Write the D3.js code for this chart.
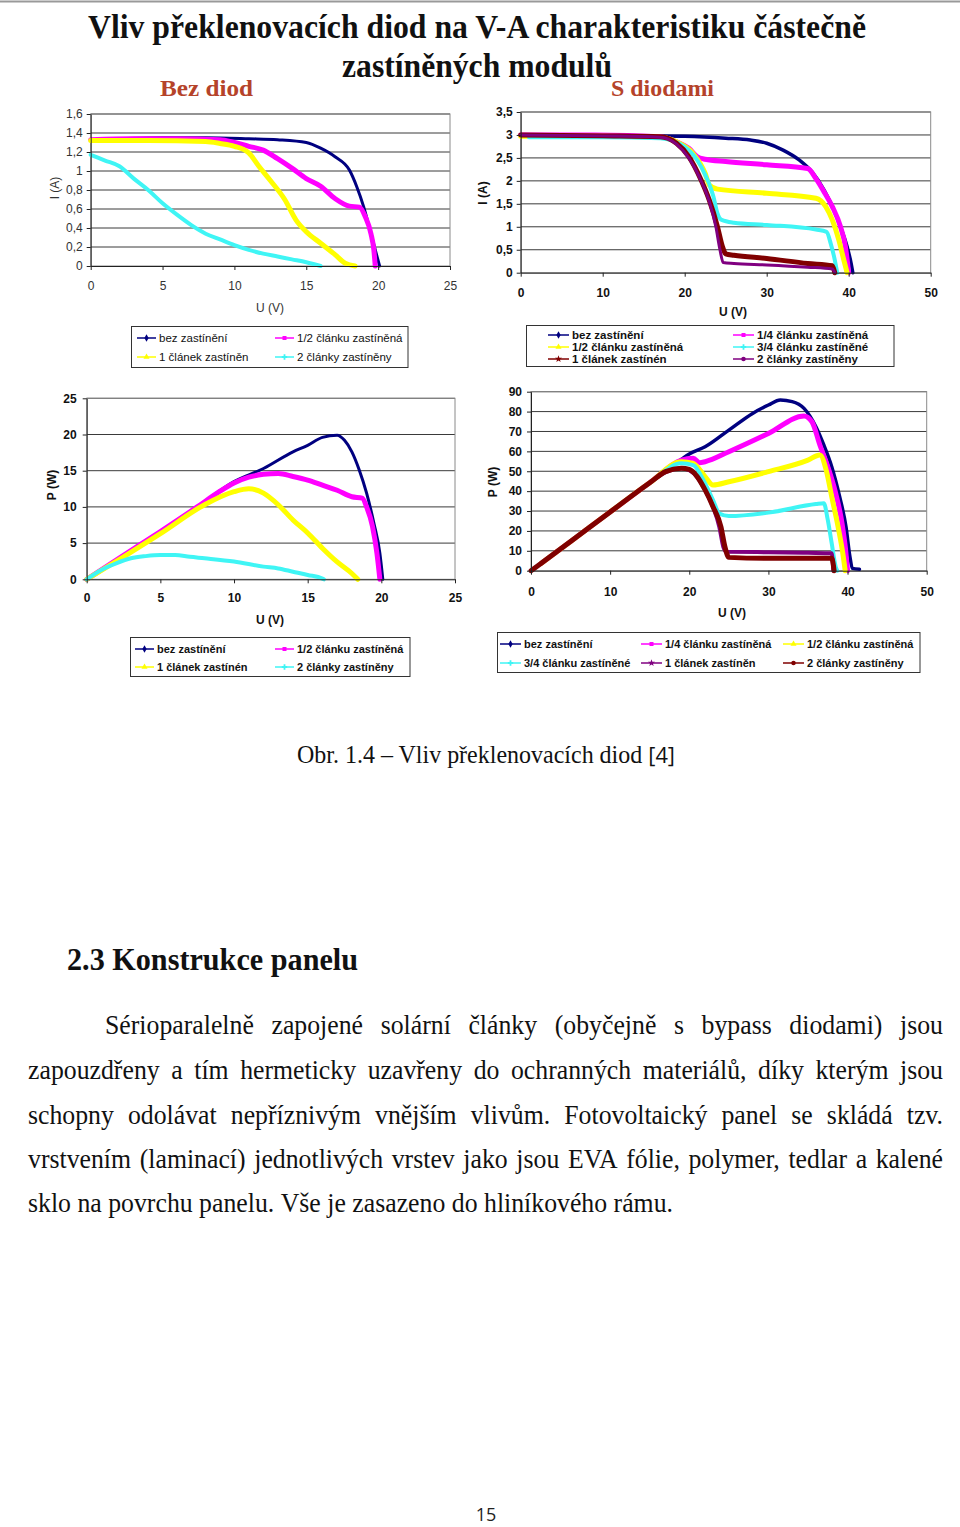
<!DOCTYPE html>
<html>
<head>
<meta charset="utf-8">
<script src="https://cdn.jsdelivr.net/npm/d3@7"></script>
<style>
  body { margin: 0; background: #fff; }
  svg { display: block; }
</style>
</head>
<body>
<svg id="page" width="960" height="1527"></svg>
<script>
// ---- data: [U (V), I (A)] or [U (V), P (W)] ----

// I-V, bez diod
var ivBezNavy = [[0,1.33],[2,1.34],[5,1.35],[8,1.35],[11,1.34],[13,1.33],[15,1.30],[16,1.24],[17,1.15],[18,1.01],[18.5,0.84],[19,0.62],[19.5,0.34],[19.8,0.17],[20.1,0]];
var ivBezMagenta = [[0,1.33],[3,1.34],[6,1.34],[9,1.33],[10,1.30],[11,1.26],[12,1.22],[13,1.13],[14,1.03],[15,0.92],[16,0.84],[17,0.71],[18,0.63],[18.7,0.62],[19.1,0.52],[19.5,0.34],[19.7,0.17],[19.8,0]];
var ivBezYellow = [[0,1.32],[4,1.32],[8,1.31],[9,1.29],[10,1.26],[11,1.19],[11.7,1.05],[12.5,0.9],[13.5,0.7],[14.3,0.48],[15,0.36],[16,0.24],[17,0.12],[17.7,0.03],[18.4,0]];
var ivBezCyan = [[0,1.17],[1,1.11],[2,1.05],[3,0.92],[4,0.8],[5,0.66],[6,0.54],[7,0.43],[8,0.34],[9,0.28],[10,0.22],[11,0.17],[12,0.13],[13,0.1],[14,0.07],[15,0.04],[16,0]];

// I-V, s diodami
var ivDiNavy = [[0,3.0],[5,2.98],[10,2.98],[15,2.98],[20,2.97],[25,2.93],[28,2.89],[30,2.82],[32,2.67],[34,2.45],[35.5,2.2],[37,1.8],[38,1.44],[39,1.0],[39.8,0.57],[40.3,0.2],[40.5,0]];
var ivDiMagenta = [[0,3.0],[9,3.0],[17,2.96],[19,2.85],[20.5,2.71],[21.5,2.53],[22.5,2.47],[25,2.42],[30,2.35],[35,2.27],[36,2.05],[37,1.76],[38,1.44],[39,1.0],[39.6,0.57],[40,0]];
var ivDiYellow = [[0,2.97],[10,2.97],[17,2.95],[19,2.85],[21,2.6],[22.5,2.16],[23,1.91],[24,1.82],[30,1.73],[36,1.62],[37.2,1.44],[38,1.15],[38.8,0.71],[39.4,0.28],[39.8,0]];
var ivDiCyan = [[1,2.95],[10,2.95],[17,2.93],[20,2.74],[22,2.31],[23.5,1.66],[24,1.29],[24.5,1.15],[26,1.09],[30,1.04],[36,0.94],[37.3,0.89],[37.8,0.64],[38.3,0.28],[38.6,0]];
var ivDiMaroon = [[0,3.0],[10,2.98],[17,2.96],[19,2.82],[20.5,2.53],[22,2.02],[23,1.58],[24,1.0],[24.6,0.57],[25,0.41],[26,0.38],[30,0.31],[35,0.2],[38,0.15],[38.3,0]];
var ivDiPurple = [[0,3.0],[10,2.98],[17,2.95],[19,2.8],[20.5,2.5],[22,2.0],[23,1.55],[23.8,1.0],[24.3,0.5],[24.7,0.22],[26,0.2],[30,0.17],[35,0.12],[38,0.08],[38.3,0]];

// P-V, bez diod
var pvBezNavy = [[0,0],[2.5,3.3],[5,6.6],[7.5,10],[10,13.5],[12,15.3],[14,17.6],[15,18.5],[16,19.6],[17,19.9],[17.5,19.2],[18,17.6],[18.5,15.1],[19,11.9],[19.5,7.7],[19.9,3.6],[20.1,0]];
var pvBezMagenta = [[0,0],[2.5,3.3],[5,6.6],[7.5,10],[9,12.1],[10,13.3],[11,14.1],[12,14.5],[13,14.6],[14,14.2],[15,13.7],[16,13.0],[17,12.3],[18,11.4],[18.7,11.2],[19,10],[19.4,7.3],[19.7,3.6],[19.9,0]];
var pvBezYellow = [[0,0],[2.5,3.1],[5,6.3],[8,10.3],[10,12.1],[11,12.5],[12,11.9],[13,10.3],[14,8.2],[15,6.4],[16,4.3],[17,2.4],[18,0.8],[18.4,0]];
var pvBezCyan = [[0,0],[1,1.3],[2,2.2],[3,2.9],[4,3.2],[5,3.35],[6,3.35],[7,3.1],[8,2.9],[10,2.45],[12,1.75],[13,1.5],[14,1.05],[15,0.6],[16,0.1],[16.1,0]];

// P-V, s diodami
var pvDiNavy = [[0,0],[5,14.7],[10,29.5],[15,44.2],[18,53],[20,58.7],[22,62.3],[25,70.7],[28,79.1],[30,83.3],[31.5,85.8],[33,85],[34.5,81.6],[36,72.4],[37,63.2],[38,52.3],[39,37.2],[39.8,22.1],[40.3,7],[40.6,1.2],[41.5,0.7]];
var pvDiMagenta = [[1.3,3.8],[5,14.7],[10,29.5],[15,44.2],[19,55.6],[20.5,56.5],[21.3,54.3],[22,54.8],[25,59.8],[30,69],[34.5,77.8],[35.5,74.9],[36.5,63.2],[37.5,52.3],[38.5,38.9],[39.3,23.8],[39.8,8.7],[40,0]];
var pvDiYellow = [[1.3,3.8],[5,14.7],[10,29.5],[15,44.2],[19,54.8],[20.5,54],[22,47.3],[23,43.1],[25,44.7],[30,49.8],[35,55.6],[36.5,58.2],[37.3,50.6],[38,37.2],[38.8,22.1],[39.4,8.7],[39.7,0]];
var pvDiCyan = [[1.3,3.8],[5,14.7],[10,29.5],[15,44.2],[19,54],[20.5,53.1],[22,43.9],[23,35.5],[23.8,28.8],[25,27.5],[30,29.2],[36,33.5],[37,33.9],[37.5,25.5],[38,13.7],[38.5,2],[38.7,0]];
var pvDiPurple = [[1.3,3.8],[5,14.7],[10,29.5],[15,44.2],[17,49.5],[19,51.5],[20,50.5],[21,47],[22,40.5],[23,32],[23.8,22],[24.3,12],[24.7,9.5],[30,9.3],[35,9.0],[38,8.8],[38.2,0]];
var pvDiMaroon = [[0,0],[1.3,3.8],[5,14.7],[10,29.5],[15,44.2],[17,49.8],[19,51.5],[20,50.9],[21,47.3],[22,40.6],[23,32.2],[24,22.1],[24.5,12.1],[25,6.7],[30,6.2],[35,6.2],[38,6.2],[38.3,0]];

// ticks
var uTicks25 = [0, 5, 10, 15, 20, 25];
var uTicks50 = [0, 10, 20, 30, 40, 50];
var iTicksBez = [0, 0.2, 0.4, 0.6, 0.8, 1, 1.2, 1.4, 1.6];
var iTicksDi = [0, 0.5, 1, 1.5, 2, 2.5, 3, 3.5];
var pTicksBez = [0, 5, 10, 15, 20, 25];
var pTicksDi = [0, 10, 20, 30, 40, 50, 60, 70, 80, 90];

// legend labels (as printed in each legend)
var legBezIV = ['bez zastínění', '1/2 článku zastíněná', '1 článek zastíněn', '2 články zastíněny'];
var legDiIV = ['bez zastínění', '1/4 článku zastíněná', '1/2 článku zastíněná', '3/4 článku zastíněné', '1 článek zastínén', '2 články zastíněny'];
var legBezPV = ['bez zastínění', '1/2 článku zastíněná', '1 článek zastínén', '2 články zastíněny'];
var legDiPV = ['bez zastínění', '1/4 článku zastíněná', '1/2 článku zastíněná', '3/4 článku zastíněné', '1 článek zastíněn', '2 články zastíněny'];

// page text
var titleLines = ['Vliv překlenovacích diod na V-A charakteristiku částečně', 'zastíněných modulů'];
var bodyLines = [
  'Sérioparalelně zapojené solární články (obyčejně s bypass diodami) jsou',
  'zapouzdřeny a tím hermeticky uzavřeny do ochranných materiálů, díky kterým jsou',
  'schopny odolávat nepříznivým vnějším vlivům. Fotovoltaický panel se skládá tzv.',
  'vrstvením (laminací) jednotlivých vrstev jako jsou EVA fólie, polymer, tedlar a kalené',
  'sklo na povrchu panelu. Vše je zasazeno do hliníkového rámu.'
];

var col = {
  navy: '#000080', magenta: '#ff00ff', yellow: '#ffff00',
  cyan: '#3ff5f5', maroon: '#800000', purple: '#800080'
};

var SANS = 'Liberation Sans, Arial, sans-serif';
var SERIF = 'Liberation Serif, Times New Roman, serif';
var STRETCH = 1.12; // the scan is a little taller than it is wide

var svg = d3.select('#page');
var czFormat = d3.formatLocale({decimal: ',', thousands: ' ', grouping: [3], currency: ['', ' Kč']}).format('~g');

function drawChart(c) {
  var x = d3.scaleLinear().domain(c.xDomain).range([c.left, c.right]);
  var y = d3.scaleLinear().domain(c.yDomain).range([c.bottom, c.top]);
  var weight = c.bold ? 'bold' : 'normal';
  var g = svg.append('g');

  g.append('g').selectAll('line').data(c.yTicks.slice(1)).join('line')
    .attr('x1', c.left).attr('x2', c.right)
    .attr('y1', function(d) { return y(d); }).attr('y2', function(d) { return y(d); })
    .attr('stroke', '#3a3a3a').attr('stroke-width', 1);
  g.append('rect')
    .attr('x', c.left).attr('y', c.top)
    .attr('width', c.right - c.left).attr('height', c.bottom - c.top)
    .attr('fill', 'none').attr('stroke', '#8a8a8a');

  var line = d3.line()
    .x(function(d) { return x(d[0]); })
    .y(function(d) { return y(d[1]); })
    .curve(d3.curveMonotoneX);
  c.series.forEach(function(s) {
    g.append('path').datum(s.data)
      .attr('d', line)
      .attr('fill', 'none')
      .attr('stroke', s.color)
      .attr('stroke-width', s.width)
      .attr('stroke-linejoin', 'round')
      .attr('stroke-linecap', 'round');
  });

  var xa = g.append('g').attr('transform', 'translate(0,' + c.bottom + ')')
    .call(d3.axisBottom(x).tickValues(c.xTicks).tickSize(4).tickSizeOuter(0).tickPadding(c.xPad).tickFormat(czFormat));
  var ya = g.append('g').attr('transform', 'translate(' + c.left + ',0)')
    .call(d3.axisLeft(y).tickValues(c.yTicks).tickSize(4).tickSizeOuter(0).tickPadding(c.yPad).tickFormat(czFormat));
  [xa, ya].forEach(function(a) {
    a.attr('font-family', SANS).attr('font-size', 12).attr('font-weight', weight);
    a.select('.domain').attr('stroke', '#222');
    a.selectAll('.tick line').attr('stroke', '#222');
    a.selectAll('text').attr('fill', c.textColor);
  });

  g.append('text')
    .attr('transform', 'translate(' + c.yTitle[0] + ',' + c.yTitle[1] + ') rotate(-90)')
    .attr('text-anchor', 'middle').attr('dy', '0.35em')
    .attr('font-family', SANS).attr('font-size', 12).attr('font-weight', weight)
    .attr('fill', c.textColor).text(c.yLabel);
  g.append('text')
    .attr('x', c.xTitle[0]).attr('y', c.xTitle[1])
    .attr('text-anchor', 'middle').attr('dy', '0.35em')
    .attr('font-family', SANS).attr('font-size', 12).attr('font-weight', weight)
    .attr('fill', c.textColor).text('U (V)');
}

var markers = [d3.symbolDiamond, d3.symbolSquare, d3.symbolTriangle, d3.symbolCross, d3.symbolStar, d3.symbolCircle];

function drawLegend(l) {
  var g = svg.append('g')
    .attr('font-family', SANS).attr('font-size', l.fontSize)
    .attr('font-weight', l.bold ? 'bold' : 'normal');
  g.append('rect')
    .attr('x', l.box[0]).attr('y', l.box[1])
    .attr('width', l.box[2] - l.box[0]).attr('height', l.box[3] - l.box[1])
    .attr('fill', '#fff').attr('stroke', '#333');
  l.labels.forEach(function(label, i) {
    var cx = l.cols[i % l.cols.length];
    var cy = l.rows[Math.floor(i / l.cols.length)];
    var c = l.colors[i];
    g.append('line')
      .attr('x1', cx).attr('x2', cx + l.lineLen).attr('y1', cy).attr('y2', cy)
      .attr('stroke', c).attr('stroke-width', 1.5);
    g.append('path')
      .attr('d', d3.symbol(markers[i], 16)())
      .attr('transform', 'translate(' + (cx + l.lineLen / 2) + ',' + cy + ')')
      .attr('fill', c);
    g.append('text')
      .attr('x', cx + l.lineLen + 3).attr('y', cy).attr('dy', '0.35em')
      .attr('fill', '#111').text(label);
  });
}

function serifText(x, y, str, size, weight, anchor, width, fill) {
  return svg.append('text')
    .attr('transform', 'translate(' + x + ',' + y + ') scale(1,' + STRETCH + ')')
    .attr('text-anchor', anchor)
    .attr('font-family', SERIF).attr('font-size', size).attr('font-weight', weight)
    .attr('textLength', width).attr('lengthAdjust', 'spacingAndGlyphs')
    .attr('fill', fill || '#111')
    .text(str);
}

function measure(str, size) {
  var t = svg.append('text').attr('font-family', SERIF).attr('font-size', size).text(str);
  var w = t.node().getComputedTextLength();
  t.remove();
  return w;
}

// ---- page ----
svg.append('line').attr('x1', 0).attr('x2', 960).attr('y1', 1.5).attr('y2', 1.5)
  .attr('stroke', '#999').attr('stroke-width', 2);

serifText(477, 38, titleLines[0], 30, 'bold', 'middle', 778);
serifText(477, 77, titleLines[1], 30, 'bold', 'middle', 270);
serifText(160, 96, 'Bez  diod', 21, 'bold', 'start', 93, '#b5432a');
serifText(611, 96, 'S diodami', 21, 'bold', 'start', 103, '#b5432a');

drawChart({
  left: 90.7, right: 450, top: 114, bottom: 266,
  xDomain: [0, 25], yDomain: [0, 1.6], xTicks: uTicks25, yTicks: iTicksBez,
  bold: false, textColor: '#333', xPad: 11, yPad: 4,
  yLabel: 'I (A)', yTitle: [55, 188], xTitle: [270, 308],
  series: [
    {data: ivBezNavy, color: col.navy, width: 3},
    {data: ivBezMagenta, color: col.magenta, width: 5},
    {data: ivBezYellow, color: col.yellow, width: 5},
    {data: ivBezCyan, color: col.cyan, width: 4}
  ]
});

drawChart({
  left: 520.7, right: 930.7, top: 112, bottom: 272.7,
  xDomain: [0, 50], yDomain: [0, 3.5], xTicks: uTicks50, yTicks: iTicksDi,
  bold: true, textColor: '#111', xPad: 12, yPad: 4,
  yLabel: 'I (A)', yTitle: [483, 193], xTitle: [733, 312],
  series: [
    {data: ivDiNavy, color: col.navy, width: 3.5},
    {data: ivDiMagenta, color: col.magenta, width: 5},
    {data: ivDiYellow, color: col.yellow, width: 5},
    {data: ivDiCyan, color: col.cyan, width: 4},
    {data: ivDiMaroon, color: col.maroon, width: 5},
    {data: ivDiPurple, color: col.purple, width: 3}
  ]
});

drawChart({
  left: 86.7, right: 455, top: 398.3, bottom: 579.3,
  xDomain: [0, 25], yDomain: [0, 25], xTicks: uTicks25, yTicks: pTicksBez,
  bold: true, textColor: '#111', xPad: 10.5, yPad: 6,
  yLabel: 'P (W)', yTitle: [52, 485], xTitle: [270, 620],
  series: [
    {data: pvBezNavy, color: col.navy, width: 3},
    {data: pvBezMagenta, color: col.magenta, width: 5},
    {data: pvBezYellow, color: col.yellow, width: 5},
    {data: pvBezCyan, color: col.cyan, width: 4}
  ]
});

drawChart({
  left: 531, right: 926.7, top: 391.7, bottom: 570.7,
  xDomain: [0, 50], yDomain: [0, 90], xTicks: uTicks50, yTicks: pTicksDi,
  bold: true, textColor: '#111', xPad: 13, yPad: 5,
  yLabel: 'P (W)', yTitle: [493, 482], xTitle: [732, 613],
  series: [
    {data: pvDiNavy, color: col.navy, width: 3.5},
    {data: pvDiMagenta, color: col.magenta, width: 5},
    {data: pvDiYellow, color: col.yellow, width: 5},
    {data: pvDiCyan, color: col.cyan, width: 4},
    {data: pvDiPurple, color: col.purple, width: 4},
    {data: pvDiMaroon, color: col.maroon, width: 5}
  ]
});

drawLegend({
  box: [131.5, 326.5, 408, 367.5], cols: [137, 275], rows: [338, 357], lineLen: 19,
  fontSize: 11.5, bold: false, labels: legBezIV,
  colors: [col.navy, col.magenta, col.yellow, col.cyan]
});
drawLegend({
  box: [526.5, 325.5, 894, 366.5], cols: [548, 733], rows: [335, 347, 359], lineLen: 21,
  fontSize: 11.5, bold: true, labels: legDiIV,
  colors: [col.navy, col.magenta, col.yellow, col.cyan, col.maroon, col.purple]
});
drawLegend({
  box: [130.5, 637.5, 410, 676.5], cols: [135, 275], rows: [649, 667], lineLen: 19,
  fontSize: 11, bold: true, labels: legBezPV,
  colors: [col.navy, col.magenta, col.yellow, col.cyan]
});
drawLegend({
  box: [497.5, 632.5, 920, 672.5], cols: [500, 641, 783], rows: [644, 663], lineLen: 21,
  fontSize: 11, bold: true, labels: legDiPV,
  colors: [col.navy, col.magenta, col.yellow, col.cyan, col.purple, col.maroon]
});

// caption
var cap = svg.append('text')
  .attr('transform', 'translate(486,763) scale(1,' + STRETCH + ')')
  .attr('text-anchor', 'middle')
  .attr('font-family', SERIF).attr('font-size', 22)
  .attr('textLength', 378).attr('lengthAdjust', 'spacingAndGlyphs')
  .attr('fill', '#111');
cap.append('tspan').text('Obr. 1.4 – Vliv překlenovacích diod ');
cap.append('tspan').attr('font-family', 'Open Sans, sans-serif').attr('font-size', 20).text('[4]');

// heading
serifText(67, 970, '2.3 Konstrukce panelu', 28, 'bold', 'start', 291);

// justified paragraph
var bodySize = 24;
var lastWords = bodyLines[4].split(' ');
var natural = d3.sum(lastWords, function(w) { return measure(w, bodySize); }) + (lastWords.length - 1) * bodySize * 0.25;
var squeeze = 645 / natural;
var bodyBase = [1034, 1079, 1124, 1168, 1212];

bodyLines.forEach(function(str, li) {
  var x0 = li === 0 ? 105 : 28;
  var words = str.split(' ');
  var g = svg.append('g')
    .attr('transform', 'translate(0,' + bodyBase[li] + ') scale(1,' + STRETCH + ')')
    .attr('font-family', SERIF).attr('font-size', bodySize).attr('fill', '#111');
  var widths = words.map(function(w) { return measure(w, bodySize) * squeeze; });
  var gap = li === 4 ? bodySize * 0.25 * squeeze : (943 - x0 - d3.sum(widths)) / (words.length - 1);
  var x = x0;
  words.forEach(function(w, i) {
    g.append('text')
      .attr('transform', 'translate(' + x + ',0) scale(' + squeeze + ',1)')
      .text(w);
    x += widths[i] + gap;
  });
});

// page number
svg.append('text')
  .attr('x', 486).attr('y', 1521).attr('text-anchor', 'middle')
  .attr('font-family', 'Open Sans, Liberation Sans, sans-serif').attr('font-size', 18)
  .attr('fill', '#222').text('15');
</script>
</body>
</html>
